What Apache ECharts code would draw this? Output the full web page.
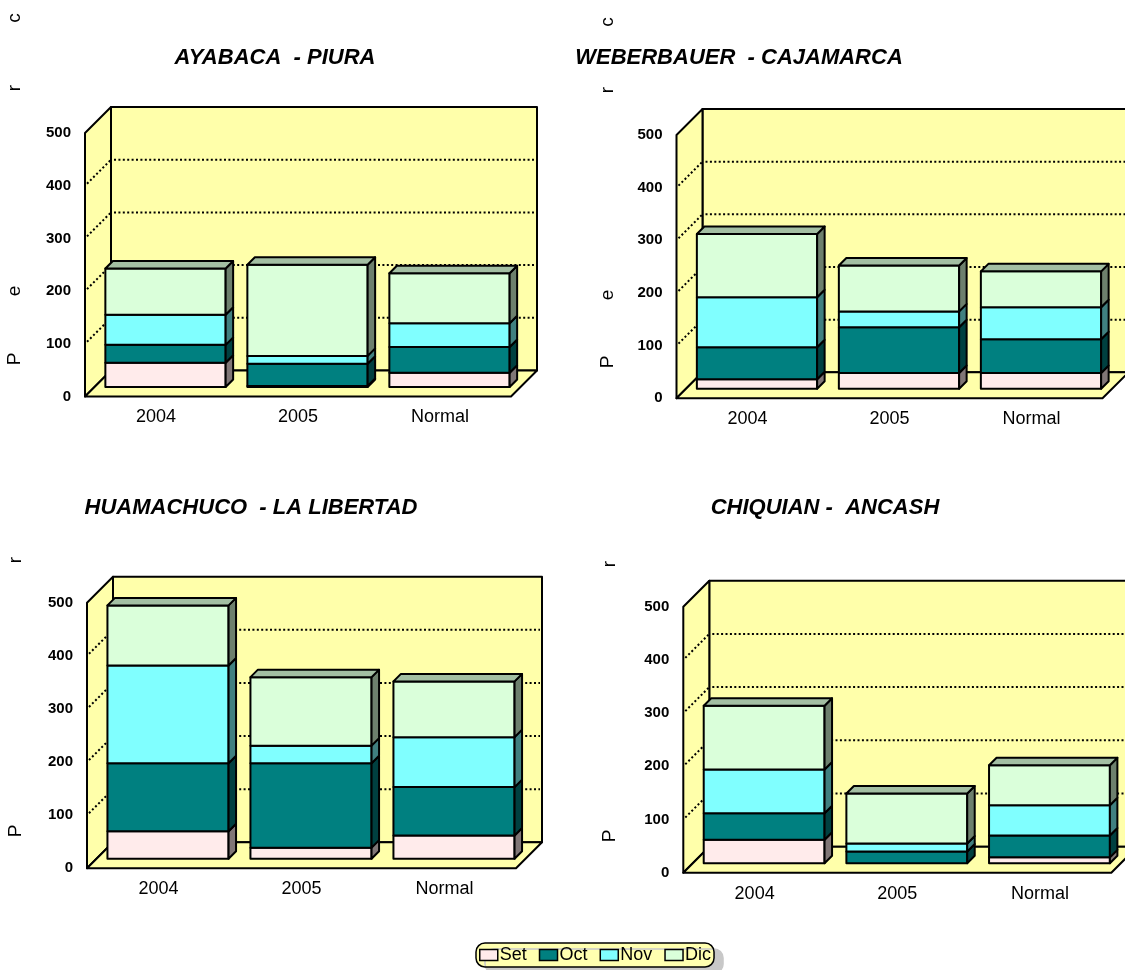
<!DOCTYPE html>
<html>
<head>
<meta charset="utf-8">
<script src="https://cdn.jsdelivr.net/npm/echarts@6/dist/echarts.min.js"></script>
<style>
html,body{margin:0;padding:0;background:#fff;}
#chart{width:1125px;height:970px;}
</style>
</head>
<body>
<div id="chart"></div>
<script>
// ---------- data ----------
const categories = ['2004', '2005', 'Normal'];
const months = ['Set', 'Oct', 'Nov', 'Dic'];
const yTicks = [0, 100, 200, 300, 400, 500];
const stationTitles = ['AYABACA  - PIURA', 'WEBERBAUER  - CAJAMARCA', 'HUAMACHUCO  - LA LIBERTAD', 'CHIQUIAN -  ANCASH'];

// AYABACA - PIURA (2004, 2005, Normal)
const ayabacaSet = [46, 2, 27];
const ayabacaOct = [34, 42, 49];
const ayabacaNov = [57, 15, 45];
const ayabacaDic = [88, 173, 95];
// WEBERBAUER - CAJAMARCA
const weberbauerSet = [18, 30, 30];
const weberbauerOct = [61, 87, 64];
const weberbauerNov = [95, 30, 61];
const weberbauerDic = [120, 87, 68];
// HUAMACHUCO - LA LIBERTAD
const huamachucoSet = [52, 21, 44];
const huamachucoOct = [128, 159, 91];
const huamachucoNov = [184, 33, 94];
const huamachucoDic = [113, 129, 105];
// CHIQUIAN - ANCASH
const chiquianSet = [44, 0, 11];
const chiquianOct = [50, 22, 41];
const chiquianNov = [82, 15, 57];
const chiquianDic = [120, 94, 75];

const stations = [
  [ayabacaSet, ayabacaOct, ayabacaNov, ayabacaDic],
  [weberbauerSet, weberbauerOct, weberbauerNov, weberbauerDic],
  [huamachucoSet, huamachucoOct, huamachucoNov, huamachucoDic],
  [chiquianSet, chiquianOct, chiquianNov, chiquianDic]
];

// ---------- styles / layout ----------
const FONT = 'Liberation Sans, Arial, sans-serif';
const monthColors = [
  { front: '#FFEBEB', side: '#807676', top: '#BFB0B0' },
  { front: '#008080', side: '#004040', top: '#006060' },
  { front: '#80FFFF', side: '#408080', top: '#60BFBF' },
  { front: '#DAFFDA', side: '#6D806D', top: '#A3BFA3' }
];
const WALL = '#FFFFAA';
const DEPTH = 26;
const BAR_OFF = 9.5;
const BAR_DEPTH = 7.5;
const BAR_RATIO = 0.847;

const grids = [
  { left: 85, top: 133, width: 426, height: 263.5 },
  { left: 676.5, top: 135, width: 426, height: 263.3 },
  { left: 87, top: 602.7, width: 429, height: 265.6 },
  { left: 683.3, top: 606.7, width: 428, height: 266 }
];

function wallRender(params, api) {
  const cs = params.coordSys;
  const x0 = cs.x, x1 = cs.x + cs.width;
  const yb = api.coord([0, yTicks[0]])[1];
  const yt = api.coord([0, yTicks[yTicks.length - 1]])[1];
  const D = DEPTH;
  const solid = { stroke: '#000', lineWidth: 2, fill: WALL, lineJoin: 'round' };
  const children = [
    { type: 'rect', shape: { x: x0 + D, y: yt - D, width: cs.width, height: yb - yt }, style: solid },
    { type: 'polygon', shape: { points: [[x0, yb], [x0 + D, yb - D], [x0 + D, yt - D], [x0, yt]] }, style: solid },
    { type: 'polygon', shape: { points: [[x0, yb], [x1, yb], [x1 + D, yb - D], [x0 + D, yb - D]] }, style: solid }
  ];
  for (let i = 1; i < yTicks.length - 1; i++) {
    const y = api.coord([0, yTicks[i]])[1];
    const dot = { stroke: '#000', lineWidth: 2, lineDash: [2, 2.4], fill: null };
    children.push({ type: 'line', shape: { x1: x0 + 2, y1: y - 2, x2: x0 + D, y2: y - D }, style: dot });
    children.push({ type: 'line', shape: { x1: x0 + D + 3, y1: y - D, x2: x1 + D - 2, y2: y - D }, style: dot });
  }
  return { type: 'group', children: children };
}

function barRender(colors, isTop) {
  return function (params, api) {
    const ci = api.value(0), lo = api.value(1), hi = api.value(2);
    if (!(hi - lo > 0)) return;
    const pLo = api.coord([ci, lo]), pHi = api.coord([ci, hi]);
    const bw = api.size([1, 0])[0] * BAR_RATIO;
    const xl = pLo[0] - bw / 2 + BAR_OFF, xr = xl + bw;
    const yb = pLo[1] - BAR_OFF, yt = pHi[1] - BAR_OFF;
    const d = BAR_DEPTH;
    const st = (f) => ({ fill: f, stroke: '#000', lineWidth: 2, lineJoin: 'round' });
    const children = [
      { type: 'rect', shape: { x: xl, y: yt, width: bw, height: yb - yt }, style: st(colors.front) },
      { type: 'polygon', shape: { points: [[xr, yb], [xr + d, yb - d], [xr + d, yt - d], [xr, yt]] }, style: st(colors.side) }
    ];
    if (isTop) {
      children.push({ type: 'polygon', shape: { points: [[xl, yt], [xr, yt], [xr + d, yt - d], [xl + d, yt - d]] }, style: st(colors.top) });
    }
    return { type: 'group', children: children };
  };
}

const xAxes = [], yAxes = [], series = [];
stations.forEach(function (st, p) {
  xAxes.push({
    type: 'category', gridIndex: p, data: categories,
    axisLine: { show: false }, axisTick: { show: false },
    axisLabel: { fontSize: 18, color: '#000', margin: 12, fontFamily: FONT, interval: 0 }
  });
  yAxes.push({
    type: 'value', gridIndex: p, min: yTicks[0], max: yTicks[yTicks.length - 1], interval: yTicks[1] - yTicks[0],
    axisLine: { show: false }, axisTick: { show: false }, splitLine: { show: false },
    axisLabel: { fontSize: 15, fontWeight: 'bold', color: '#000', margin: 14, fontFamily: FONT }
  });
  series.push({
    type: 'custom', xAxisIndex: p, yAxisIndex: p, z: 1, silent: true,
    renderItem: wallRender, data: [[0, 0]], encode: { x: 0, y: 1 }
  });
  const base = categories.map(() => 0);
  st.forEach(function (vals, m) {
    const data = categories.map(function (c, i) {
      const lo = base[i], hi = base[i] + vals[i];
      base[i] = hi;
      return [i, lo, hi];
    });
    series.push({
      type: 'custom', name: months[m], xAxisIndex: p, yAxisIndex: p, z: 2 + m,
      itemStyle: { color: monthColors[m].front },
      renderItem: barRender(monthColors[m], m === months.length - 1),
      data: data, encode: { x: 0, y: [1, 2] }
    });
  });
});

// titles & stray axis-name letters
const titlePos = [[275, 58], [739, 58], [251, 508], [825, 508]];
const sideLetters = [
  [['P', 24, 359], ['e', 24, 291], ['r', 24, 88], ['c', 24, 18]],
  [['P', 617, 362], ['e', 617, 295], ['r', 617, 90], ['c', 617, 22]],
  [['r', 25, 560], ['P', 25, 831]],
  [['r', 619, 564], ['P', 619, 836]]
];
const graphics = [];
stationTitles.forEach(function (t, i) {
  graphics.push({
    type: 'text', x: titlePos[i][0], y: titlePos[i][1], z: 100,
    style: { text: t, font: 'italic bold 22px ' + FONT, fill: '#000', textAlign: 'center', textVerticalAlign: 'middle' }
  });
});
sideLetters.forEach(function (arr) {
  arr.forEach(function (l) {
    graphics.push({
      type: 'text', x: l[1], y: l[2], rotation: Math.PI / 2, z: 100,
      style: { text: l[0], font: '19px ' + FONT, fill: '#000', textAlign: 'center', textVerticalAlign: 'bottom' }
    });
  });
});

const chart = echarts.init(document.getElementById('chart'), null, { renderer: 'canvas' });
chart.setOption({
  animation: false,
  backgroundColor: '#fff',
  grid: grids,
  xAxis: xAxes,
  yAxis: yAxes,
  series: series,
  graphic: graphics,
  legend: {
    data: months, left: 476, top: 943,
    icon: 'rect', itemWidth: 18, itemHeight: 11, itemGap: 12,
    padding: [3, 3, 3, 3],
    backgroundColor: '#FFFFB0', borderColor: '#000', borderWidth: 1.5, borderRadius: 9,
    shadowColor: '#C8C8C8', shadowOffsetX: 9, shadowOffsetY: 6, shadowBlur: 0.1,
    itemStyle: { borderColor: '#000', borderWidth: 1.5 },
    textStyle: { fontSize: 18, color: '#000', fontFamily: FONT, padding: [0, 0, 0, -3] }
  }
});
</script>
</body>
</html>
